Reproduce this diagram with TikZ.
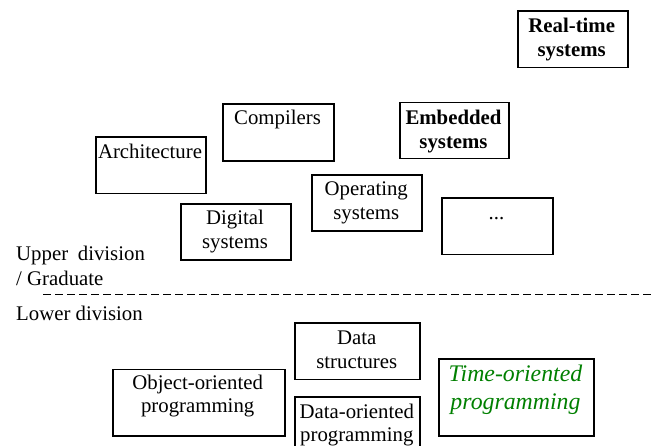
\documentclass[tikz,border=0pt]{standalone}
\usepackage{fontspec}
\setmainfont{Liberation Serif}
\definecolor{topgreen}{RGB}{0,128,0}
\begin{document}
\begin{tikzpicture}[x=1pt,y=-1pt,
  box/.style={draw=black,line width=1.8pt,fill=none,inner sep=0pt,anchor=north west},
  lbl/.style={inner sep=0pt,anchor=base,align=center,font=\fontsize{20.8}{24}\selectfont},
  bold/.style={lbl,font=\fontsize{20.8}{24}\selectfont\bfseries},
  side/.style={inner sep=0pt,anchor=base west,font=\fontsize{20.8}{24}\selectfont},
  divline/.style={line width=1.5pt,dash pattern=on 7.5pt off 4.5pt}]
\clip (0,0) rectangle (651,446);
\fill[white] (0,0) rectangle (651,446);
% upper division boxes (text anchors are at the baseline of the last line)
\node[box,minimum width=110pt,minimum height=56.7pt] (rt) at (516.7,10) {};
\node[bold] (rtt) at (571.7,56.3) {Real-time\\systems};
\node[box,minimum width=111pt,minimum height=56.7pt] (comp) at (222,103.3) {};
\node[lbl] (compt) at (277.5,125) {Compilers};
\node[box,minimum width=109.6pt,minimum height=56pt] (emb) at (398.7,101.7) {};
\node[bold] (embt) at (453.5,148.5) {Embedded\\systems};
\node[box,minimum width=110pt,minimum height=56.7pt] (arch) at (95,136) {};
\node[lbl] (archt) at (150,158.3) {Architecture};
\node[box,minimum width=110pt,minimum height=56pt] (os) at (311.3,174.3) {};
\node[lbl] (ost) at (366.3,220) {Operating\\systems};
\node[box,minimum width=110pt,minimum height=56pt] (dig) at (180,203.3) {};
\node[lbl] (digt) at (235,249) {Digital\\systems};
\node[box,minimum width=110.4pt,minimum height=56.4pt] (dots) at (441.3,197.3) {};
\node[lbl] (dotst) at (496.5,219.3) {...};
% division labels and line
\node[side] (upper) at (16,260.3) {Upper\hspace{4.5pt} division};
\node[side] (grad) at (16,285.7) {/ Graduate};
\node[side] (lower) at (16,320.3) {Lower division};
\coordinate (dl) at (43,294.5);
\coordinate (dr) at (651,294.5);
\draw[divline] (dl) -- (dr);
% lower division boxes
\node[box,minimum width=125pt,minimum height=56.7pt] (ds) at (294.3,322) {};
\node[lbl] (dst) at (356.8,368.5) {Data\\structures};
\node[box,minimum width=172pt,minimum height=66pt] (oop) at (111.7,368.7) {};
\node[lbl] (oopt) at (197.7,413) {Object-oriented\\programming};
\node[box,minimum width=125pt,minimum height=70pt] (dop) at (294.3,396.3) {};
\node[lbl] (dopt) at (356.8,442) {Data-oriented\\programming};
\node[box,minimum width=154.7pt,minimum height=76.7pt] (top) at (438,358) {};
\node[lbl,font=\fontsize{23.8}{28.4}\selectfont\itshape,text=topgreen] (topt) at (515.5,409.7) {Time-oriented\\programming};
\end{tikzpicture}
\end{document}
